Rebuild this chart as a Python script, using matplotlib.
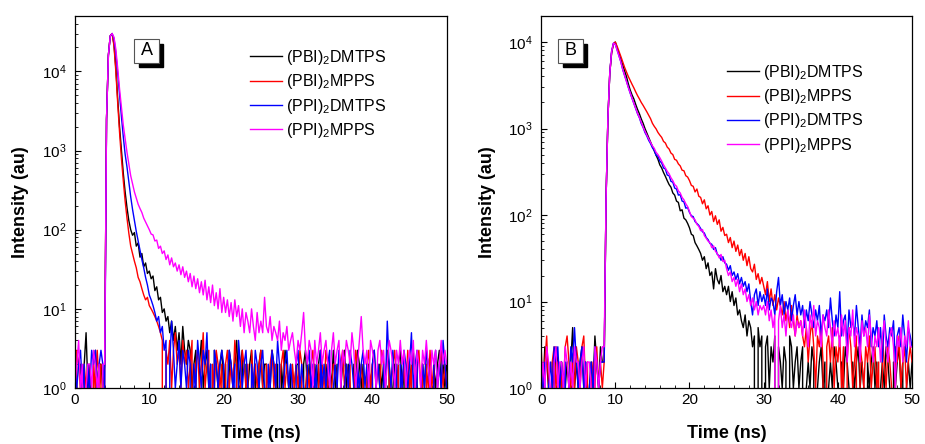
import matplotlib.pyplot as plt
import numpy as np
from matplotlib.patches import Rectangle
from matplotlib.ticker import MultipleLocator, LogLocator, NullFormatter

plt.rcParams['font.family'] = ['Liberation Sans', 'DejaVu Sans']
plt.rcParams['mathtext.default'] = 'regular'

# time channels (ns)
channel_ns = 0.25
time_ns = np.arange(201) * channel_ns

labels = [r'(PBI)$_2$DMTPS', r'(PBI)$_2$MPPS', r'(PPI)$_2$DMTPS', r'(PPI)$_2$MPPS']
colors = ['black', 'red', 'blue', 'magenta']

# ---- Panel A: decay counts, one value per 0.25 ns channel ----
a_pbi_dmtps = [
    2, 1, 0, 2, 1, 2, 5, 1, 2, 0, 2, 3, 1, 2, 2, 1, 2, 2500, 16000, 28000,
    30000, 22000, 11000, 4500, 2000, 1000, 520, 300, 190, 130, 100, 85, 92, 62, 68, 45, 50, 34, 38, 28,
    30, 24, 26, 17, 19, 13, 14, 9, 10, 7, 8, 5, 7, 4, 6, 3, 5, 2, 6, 3,
    2, 4, 3, 1, 2, 3, 0, 2, 4, 1, 2, 3, 1, 2, 0, 3, 2, 1, 2, 3,
    1, 2, 0, 3, 2, 1, 2, 4, 1, 2, 3, 0, 2, 1, 2, 3, 1, 2, 0, 2,
    3, 1, 2, 2, 0, 1, 3, 2, 1, 2, 0, 2, 1, 3, 2, 1, 2, 0, 1, 2,
    2, 1, 0, 2, 3, 1, 2, 1, 0, 2, 1, 2, 3, 1, 0, 2, 1, 2, 1, 3,
    1, 2, 0, 1, 2, 3, 1, 2, 1, 0, 2, 1, 3, 2, 1, 2, 0, 1, 2, 1,
    2, 3, 1, 0, 2, 1, 2, 1, 3, 2, 0, 1, 2, 1, 2, 3, 1, 2, 0, 2,
    1, 2, 3, 1, 2, 0, 1, 2, 1, 3, 2, 1, 0, 2, 1, 2, 3, 1, 2, 1,
    2]
a_pbi_mpps = [
    0, 3, 2, 1, 0, 2, 1, 2, 1, 0, 2, 1, 3, 1, 2, 0, 2, 2500, 16000, 28000,
    30000, 21000, 10000, 4000, 1700, 800, 420, 230, 140, 90, 62, 50, 40, 33, 25, 22, 18, 15, 13, 14,
    11, 10, 9, 8, 7, 6, 5, 4, 0, 3, 2, 4, 1, 3, 5, 2, 3, 1, 4, 2,
    3, 1, 2, 4, 0, 2, 3, 1, 2, 5, 1, 2, 3, 0, 2, 1, 3, 2, 1, 2,
    0, 2, 3, 1, 2, 1, 4, 2, 0, 1, 3, 2, 1, 2, 0, 3, 1, 2, 1, 2,
    3, 1, 0, 2, 1, 2, 3, 1, 2, 0, 1, 2, 3, 1, 2, 1, 0, 2, 1, 2,
    1, 3, 2, 0, 1, 2, 1, 2, 3, 1, 0, 2, 1, 2, 1, 3, 2, 0, 1, 2,
    2, 1, 0, 2, 3, 1, 2, 1, 2, 0, 1, 3, 2, 1, 2, 1, 0, 2, 3, 1,
    2, 0, 1, 2, 1, 3, 2, 1, 0, 2, 1, 2, 3, 1, 2, 0, 1, 2, 1, 3,
    1, 2, 0, 1, 2, 3, 1, 2, 0, 2, 1, 3, 1, 2, 0, 1, 2, 3, 1, 2,
    1]
a_ppi_dmtps = [
    2, 1, 2, 3, 1, 2, 0, 2, 1, 3, 2, 3, 1, 2, 3, 2, 1, 2500, 16000, 28000,
    30000, 26000, 17000, 9500, 5000, 2700, 1500, 900, 620, 400, 260, 180, 130, 95, 72, 55, 42, 33, 25, 20,
    15, 13, 11, 9, 7, 8, 5, 6, 3, 4, 0, 2, 7, 3, 1, 2, 4, 1, 3, 2,
    1, 3, 2, 0, 2, 1, 4, 2, 1, 3, 2, 5, 1, 2, 0, 3, 2, 1, 2, 3,
    2, 0, 1, 3, 2, 1, 2, 0, 4, 2, 1, 2, 3, 1, 0, 2, 1, 3, 2, 1,
    2, 3, 1, 0, 2, 1, 3, 2, 1, 4, 2, 0, 1, 2, 3, 1, 2, 1, 0, 2,
    3, 1, 2, 1, 0, 2, 3, 1, 2, 1, 2, 0, 3, 1, 2, 1, 2, 3, 0, 1,
    2, 1, 3, 2, 0, 1, 2, 1, 3, 2, 1, 0, 2, 1, 2, 3, 1, 2, 1, 0,
    2, 3, 1, 2, 1, 0, 2, 1, 7, 2, 1, 3, 1, 2, 0, 2, 1, 3, 2, 1,
    2, 5, 1, 2, 3, 0, 1, 2, 1, 3, 2, 1, 0, 2, 3, 1, 2, 1, 4, 2,
    1]
a_ppi_mpps = [
    1, 2, 4, 1, 2, 0, 1, 2, 2, 1, 3, 2, 1, 2, 0, 2, 2, 2500, 16000, 28000,
    30000, 27000, 19000, 11000, 6000, 3500, 2100, 1400, 950, 680, 480, 380, 300, 250, 210, 185, 165, 140, 125, 112,
    100, 88, 86, 72, 74, 58, 62, 50, 54, 42, 48, 36, 44, 34, 38, 30, 36, 27, 34, 25,
    30, 22, 28, 19, 26, 18, 24, 16, 22, 15, 23, 13, 19, 12, 20, 11, 16, 10, 18, 9,
    14, 9, 13, 8, 12, 7, 13, 8, 11, 6, 10, 5, 9, 7, 5, 10, 6, 4, 9, 5,
    7, 5, 14, 6, 5, 8, 4, 6, 5, 4, 7, 3, 5, 4, 6, 3, 4, 5, 3, 2,
    4, 3, 5, 9, 3, 2, 4, 3, 1, 4, 2, 3, 5, 2, 3, 4, 2, 1, 3, 5,
    2, 3, 4, 1, 3, 2, 4, 3, 2, 5, 3, 1, 2, 4, 8, 3, 2, 3, 1, 4,
    3, 2, 1, 3, 4, 2, 3, 1, 2, 4, 3, 2, 1, 3, 2, 4, 2, 3, 1, 2,
    3, 2, 4, 1, 3, 2, 1, 3, 2, 4, 2, 1, 3, 2, 3, 1, 2, 4, 2, 3,
    2]

# ---- Panel B ----
b_pbi_dmtps = [
    2, 1, 3, 2, 1, 0, 2, 1, 3, 2, 1, 2, 0, 1, 2, 1, 2, 5, 1, 2,
    1, 2, 3, 1, 2, 0, 1, 2, 1, 4, 2, 1, 3, 2, 2, 150, 1300, 4300, 7500, 9500,
    10000, 8500, 7300, 6300, 5400, 4600, 4000, 3300, 2800, 2450, 2200, 1900, 1660, 1480, 1290, 1150, 1000, 890, 790, 700,
    620, 550, 490, 440, 380, 350, 310, 280, 250, 225, 210, 180, 170, 145, 140, 112, 115, 92, 88, 80,
    71, 60, 58, 48, 44, 40, 36, 30, 33, 24, 28, 20, 22, 14, 24, 18, 16, 20, 13, 15,
    12, 15, 10, 13, 9, 11, 7, 8, 6, 5, 7, 4, 6, 5, 3, 4, 0, 5, 3, 4,
    0, 3, 4, 1, 3, 2, 4, 0, 3, 2, 1, 3, 2, 0, 4, 3, 1, 2, 3, 1,
    2, 3, 0, 1, 2, 1, 3, 2, 0, 1, 2, 3, 1, 2, 0, 1, 2, 1, 3, 2,
    1, 0, 2, 1, 3, 2, 1, 0, 2, 1, 2, 3, 1, 2, 1, 0, 2, 1, 2, 3,
    1, 2, 0, 1, 2, 1, 3, 2, 1, 0, 2, 1, 2, 3, 1, 2, 0, 1, 2, 1,
    2]
b_pbi_mpps = [
    3, 1, 2, 4, 1, 0, 2, 3, 1, 2, 0, 2, 1, 3, 4, 2, 1, 2, 1, 3,
    2, 1, 3, 4, 1, 2, 0, 1, 2, 1, 3, 1, 2, 1, 2, 150, 1300, 4300, 7500, 9500,
    10000, 8900, 7800, 6800, 5900, 5100, 4500, 4000, 3600, 3250, 2950, 2650, 2400, 2200, 2000, 1850, 1700, 1560, 1420, 1300,
    1150, 1060, 990, 900, 840, 790, 710, 680, 610, 580, 520, 500, 440, 430, 390, 370, 330, 325, 285, 275,
    250, 220, 215, 185, 200, 165, 160, 135, 150, 118, 128, 100, 110, 84, 98, 78, 88, 65, 72, 58,
    60, 48, 55, 42, 50, 38, 45, 34, 40, 30, 36, 26, 33, 24, 22, 27, 18, 21, 16, 19,
    15, 12, 17, 10, 14, 9, 12, 8, 11, 9, 7, 10, 6, 8, 5, 9, 6, 4, 7, 5,
    6, 4, 3, 5, 2, 4, 6, 3, 1, 4, 3, 5, 2, 0, 3, 4, 2, 5, 1, 3,
    2, 4, 1, 3, 0, 2, 5, 3, 1, 2, 4, 0, 3, 2, 1, 3, 2, 4, 1, 2,
    3, 1, 2, 0, 4, 2, 1, 3, 2, 1, 0, 3, 2, 4, 1, 2, 3, 1, 2, 3,
    2]
b_ppi_dmtps = [
    2, 1, 2, 0, 1, 2, 1, 3, 2, 3, 1, 2, 1, 2, 0, 1, 3, 2, 5, 2,
    1, 2, 3, 1, 2, 0, 1, 2, 1, 3, 2, 1, 2, 2, 2, 150, 1300, 4300, 7800, 9700,
    9400, 8100, 6900, 5900, 4800, 4100, 3550, 3000, 2570, 2240, 1950, 1700, 1480, 1330, 1140, 1030, 900, 820, 730, 670,
    600, 560, 490, 480, 420, 400, 350, 340, 290, 285, 245, 240, 205, 200, 170, 172, 145, 142, 120, 122,
    107, 98, 96, 84, 80, 76, 70, 64, 62, 55, 52, 47, 46, 40, 42, 35, 34, 30, 33, 28,
    27, 23, 26, 20, 22, 18, 21, 16, 19, 15, 17, 13, 16, 10, 7, 12, 14, 9, 13, 10,
    12, 9, 14, 8, 11, 10, 7, 13, 19, 9, 12, 7, 10, 8, 11, 6, 9, 12, 7, 10,
    7, 9, 5, 8, 6, 10, 7, 5, 8, 6, 9, 4, 7, 6, 8, 5, 11, 6, 4, 7,
    5, 13, 4, 6, 7, 3, 8, 5, 6, 4, 9, 5, 3, 7, 4, 6, 5, 8, 3, 5,
    4, 6, 3, 5, 2, 7, 4, 3, 5, 4, 6, 2, 4, 5, 3, 7, 4, 2, 5, 4,
    3]
b_ppi_mpps = [
    1, 2, 1, 3, 2, 1, 0, 2, 3, 1, 2, 2, 1, 3, 2, 1, 2, 1, 3, 2,
    2, 1, 2, 3, 1, 2, 2, 1, 0, 3, 2, 1, 2, 3, 3, 150, 1300, 4300, 7800, 9700,
    9400, 8000, 6900, 5850, 4850, 4100, 3500, 3000, 2600, 2250, 1960, 1720, 1500, 1340, 1180, 1040, 930, 840, 760, 690,
    630, 590, 530, 500, 460, 420, 380, 350, 320, 300, 270, 250, 225, 215, 190, 180, 160, 150, 135, 125,
    110, 96, 92, 88, 78, 74, 66, 68, 58, 54, 50, 48, 42, 44, 38, 36, 32, 35, 29, 30,
    24, 20, 22, 17, 19, 15, 18, 13, 16, 12, 14, 10, 12, 9, 11, 8, 10, 7, 9, 8,
    9, 7, 10, 6, 8, 5, 7, 0, 6, 9, 5, 7, 4, 8, 6, 5, 7, 4, 6, 5,
    6, 4, 8, 5, 3, 7, 5, 9, 4, 6, 5, 3, 7, 5, 4, 8, 5, 3, 6, 4,
    5, 3, 7, 4, 6, 2, 5, 4, 8, 3, 5, 4, 2, 6, 4, 5, 3, 7, 4, 2,
    4, 3, 5, 2, 4, 6, 3, 2, 4, 5, 3, 1, 4, 3, 5, 2, 4, 3, 6, 3,
    3]

panel_a = [a_pbi_dmtps, a_pbi_mpps, a_ppi_dmtps, a_ppi_mpps]
panel_b = [b_pbi_dmtps, b_pbi_mpps, b_ppi_dmtps, b_ppi_mpps]
for s in panel_a + panel_b:
    assert len(s) == len(time_ns), len(s)

fig = plt.figure(figsize=(9.25, 4.44), dpi=100)
ax_a = fig.add_axes([0.081, 0.126, 0.402, 0.838])
ax_b = fig.add_axes([0.585, 0.126, 0.401, 0.838])


def draw_panel(ax, data, ymax, letter, box_x, legend_xy):
    for counts, lab, col in zip(data, labels, colors):
        ax.plot(time_ns, counts, color=col, lw=1.0, label=lab)
    ax.set_yscale('log', nonpositive='clip')
    ax.set_xlim(0, 50)
    ax.set_ylim(1, ymax)
    ax.xaxis.set_major_locator(MultipleLocator(10))
    ax.xaxis.set_minor_locator(MultipleLocator(2))
    ax.yaxis.set_major_locator(LogLocator(base=10, numticks=10))
    ax.yaxis.set_minor_locator(LogLocator(base=10, subs=np.arange(2, 10) * 1.0, numticks=30))
    ax.yaxis.set_minor_formatter(NullFormatter())
    ax.tick_params(which='both', direction='in', top=False, right=False, labelsize=11)
    ax.tick_params(which='major', length=4, width=0.8)
    ax.tick_params(which='minor', length=2.5, width=0.6)
    ax.tick_params(axis='y', pad=6)
    ax.set_xlabel('Time (ns)', fontsize=13, fontweight='bold', labelpad=13)
    ax.set_ylabel('Intensity (au)', fontsize=13, fontweight='bold', labelpad=9)
    for sp in ax.spines.values():
        sp.set_linewidth(0.9)

    # boxed panel letter with drop shadow
    w, h, off = 0.067, 0.064, 0.012
    ax.add_patch(Rectangle((box_x + off, 0.874 - off), w, h, transform=ax.transAxes,
                           facecolor='black', edgecolor='black', zorder=5))
    ax.add_patch(Rectangle((box_x, 0.874), w, h, transform=ax.transAxes,
                           facecolor='white', edgecolor='#555555', lw=0.8, zorder=6))
    ax.text(box_x + w / 2, 0.874 + h / 2, letter, transform=ax.transAxes,
            ha='center', va='center', fontsize=13, zorder=7)

    ax.legend(loc='upper left', bbox_to_anchor=legend_xy, frameon=False, fontsize=11.5,
              borderpad=0, borderaxespad=0, handlelength=2.0, handletextpad=0.25,
              labelspacing=0.33)


draw_panel(ax_a, panel_a, 5e4, 'A', 0.159, (0.47, 0.914))
draw_panel(ax_b, panel_b, 2e4, 'B', 0.046, (0.502, 0.874))

fig.savefig('out.png', dpi=100)
